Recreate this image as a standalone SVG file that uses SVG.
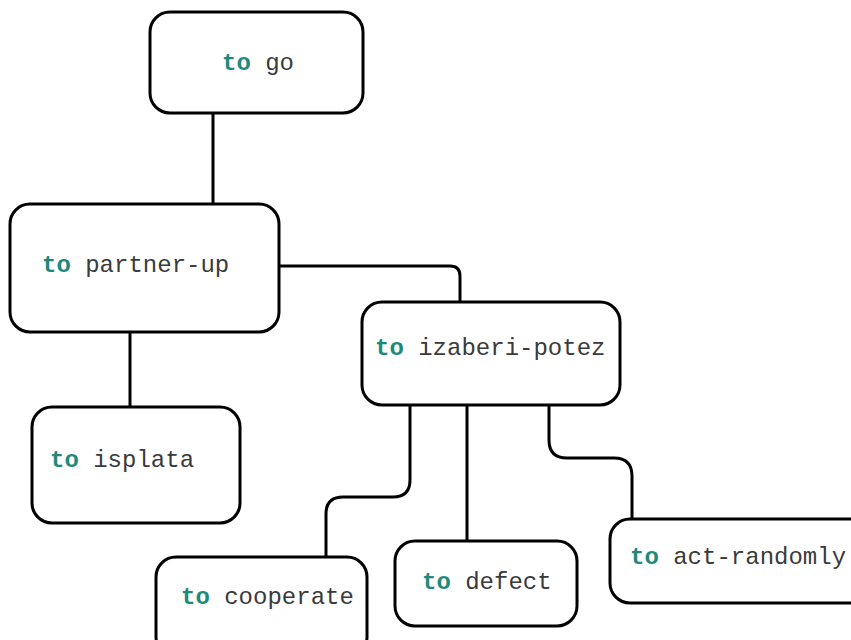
<svg xmlns="http://www.w3.org/2000/svg" width="851" height="640" viewBox="0 0 851 640">
<style>
.box{fill:#fff;stroke:#000;stroke-width:3}
.conn{fill:none;stroke:#000;stroke-width:3}
text{font-family:"Liberation Mono","Courier New",monospace;font-size:24px;fill:#3a3a3a}
.kw{font-weight:bold;fill:#1f8a7c}
</style>
<rect width="851" height="640" fill="#fff"/>
<g id="connectors">
<path class="conn" d="M213,113 V204"/>
<path class="conn" d="M279,266 H450 Q460,266 460,276 V302"/>
<path class="conn" d="M130,332 V407"/>
<path class="conn" d="M410,405 V480 Q410,497 393,497 H343 Q326,497 326,514 V557"/>
<path class="conn" d="M467,405 V541"/>
<path class="conn" d="M549,405 V440 Q549,458 567,458 H614 Q632,458 632,476 V519"/>
</g>
<g id="go"><rect class="box" x="150" y="12" width="213" height="101" rx="20"/><text x="222" y="70"><tspan class="kw">to</tspan> go</text></g>
<g id="partner-up"><rect class="box" x="10" y="204" width="269" height="128" rx="20"/><text x="42" y="272"><tspan class="kw">to</tspan> partner-up</text></g>
<g id="izaberi-potez"><rect class="box" x="362" y="302" width="258" height="103" rx="20"/><text x="375" y="355"><tspan class="kw">to</tspan> izaberi-potez</text></g>
<g id="isplata"><rect class="box" x="32" y="407" width="208" height="116" rx="20"/><text x="50" y="467"><tspan class="kw">to</tspan> isplata</text></g>
<g id="cooperate"><rect class="box" x="156" y="557" width="211" height="100" rx="20"/><text x="181" y="604"><tspan class="kw">to</tspan> cooperate</text></g>
<g id="defect"><rect class="box" x="395" y="541" width="182" height="85" rx="20"/><text x="422" y="589"><tspan class="kw">to</tspan> defect</text></g>
<g id="act-randomly"><rect class="box" x="610" y="519" width="260" height="84" rx="20"/><text x="630" y="564"><tspan class="kw">to</tspan> act-randomly</text></g>
</svg>
